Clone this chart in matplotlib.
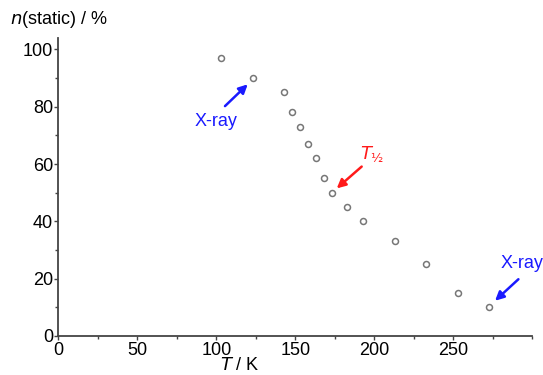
import numpy as np
import matplotlib
matplotlib.use("Agg")
import matplotlib.pyplot as plt
from matplotlib.ticker import MultipleLocator

plt.rcParams['font.family'] = ['Liberation Sans', 'DejaVu Sans']

# data
temp = [103, 123, 143, 148, 153, 158, 163, 168, 173, 183, 193, 213, 233, 253, 273]
n_static = [97, 90, 85, 78, 73, 67, 62, 55, 50, 45, 40, 33, 25, 15, 10]

fig = plt.figure(figsize=(5.43, 3.75), dpi=100)
ax = fig.add_axes([0.1077, 0.104, 0.872, 0.795])

ax.plot(temp, n_static, 'o', ms=4.3, mfc='white', mec='#777777', mew=1.1)

ax.set_xlim(0, 300)
ax.set_ylim(0, 104)
ax.xaxis.set_major_locator(MultipleLocator(50))
ax.xaxis.set_minor_locator(MultipleLocator(25))
ax.yaxis.set_major_locator(MultipleLocator(20))
ax.yaxis.set_minor_locator(MultipleLocator(10))
ax.set_xticks([0, 50, 100, 150, 200, 250])
for s in ['top', 'right']:
    ax.spines[s].set_visible(False)
for s in ['left', 'bottom']:
    ax.spines[s].set_color('#444444')
    ax.spines[s].set_linewidth(1.3)
ax.tick_params(which='both', direction='out', color='#444444', width=1, labelsize=13, pad=1)
ax.tick_params(which='major', length=3)
ax.tick_params(which='minor', length=2)

fig.text(0.018, 0.935, r'$n$(static) / %', fontsize=13, ha='left', va='baseline')
fig.text(0.442, 0.012, r'$T$ / K', fontsize=13, ha='center', va='baseline')

blue = '#1a1aff'
red = '#ff1a1a'
arrow_b = dict(arrowstyle='-|>', color=blue, lw=1.8, mutation_scale=13, shrinkA=0, shrinkB=0)
arrow_r = dict(arrowstyle='-|>', color=red, lw=1.8, mutation_scale=13, shrinkA=0, shrinkB=0)

ax.annotate('', xy=(119.9, 87.8), xytext=(105.5, 80.2), arrowprops=arrow_b)
ax.text(99.8, 75, 'X-ray', color=blue, fontsize=13, ha='center', va='center')

ax.annotate('', xy=(176.3, 51.5), xytext=(192.1, 59.1), arrowprops=arrow_r)
ax.text(198.5, 63.4, r'$T_{½}$', color=red, fontsize=13, ha='center', va='center')

ax.annotate('', xy=(276.6, 12.3), xytext=(291.4, 19.8), arrowprops=arrow_b, annotation_clip=False)
ax.text(280.2, 25.4, 'X-ray', color=blue, fontsize=13, ha='left', va='center', clip_on=False)

fig.savefig('out.png', dpi=100)
